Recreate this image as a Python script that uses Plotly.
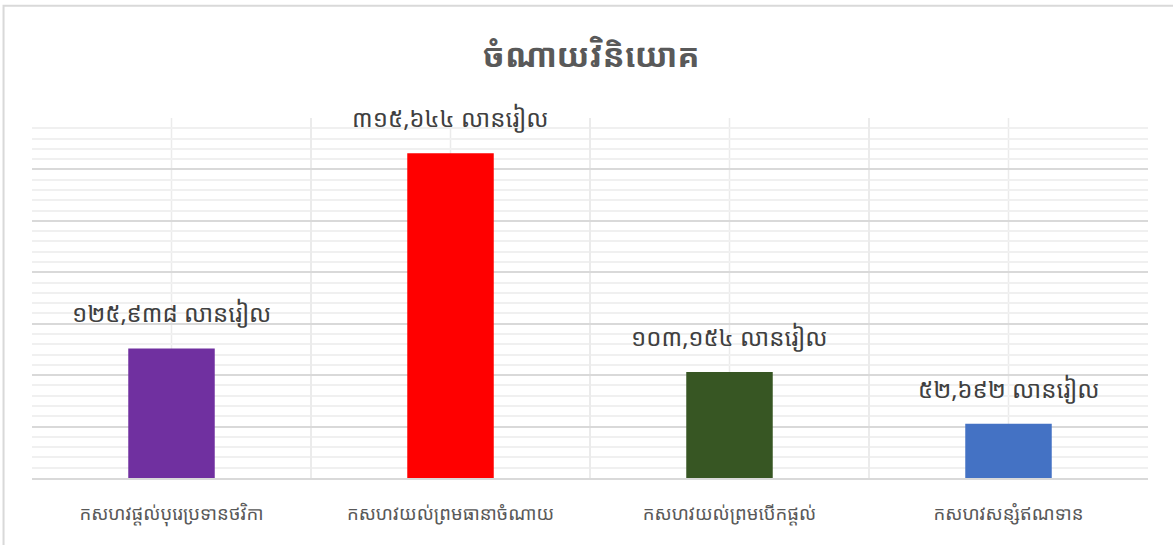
import plotly.graph_objects as go

categories = ["កសហវផ្តល់បុរេប្រទានថវិកា", "កសហវយល់ព្រមធានាចំណាយ", "កសហវយល់ព្រមបើកផ្តល់", "កសហវសន្សំឥណទាន"]
values = [125938, 315644, 103154, 52692]
value_labels = ["១២៥,៩៣៨ លានរៀល", "៣១៥,៦៤៤ លានរៀល", "១០៣,១៥៤ លានរៀល", "៥២,៦៩២ លានរៀល"]
bar_colors = ["#7030A0", "#FF0000", "#375623", "#4472C4"]
title_text = "ចំណាយវិនិយោគ"

FONT = "Noto Sans Khmer, Khmer OS, Khmer OS System, Noto Serif Khmer, Noto Sans, sans-serif"

fig = go.Figure()
fig.add_trace(go.Bar(x=categories, y=values, marker=dict(color=bar_colors, line=dict(width=0)),
                     width=0.31, hoverinfo="skip"))

for c, v, t in zip(categories, values, value_labels):
    fig.add_annotation(x=c, y=v, text=t, showarrow=False, yanchor="bottom", yshift=17,
                       font=dict(family=FONT, size=24, color="#404040"))

for c in categories:
    fig.add_shape(type="line", xref="x", yref="paper", x0=c, x1=c, y0=0, y1=1,
                  line=dict(color="#EBEBEB", width=1.5), layer="below")

# outer chart border
fig.add_shape(type="rect", xref="paper", yref="paper", x0=-0.0255, x1=1.1, y0=-0.3, y1=1.312,
              line=dict(color="#D9D9D9", width=2), layer="below")

fig.update_layout(
    width=1173, height=545,
    margin=dict(l=32, r=25, t=118, b=67),
    paper_bgcolor="white", plot_bgcolor="white",
    showlegend=False,
    title=dict(text=title_text, x=0.504, xanchor="center", y=1 - 55 / 545, yanchor="middle",
               font=dict(family=FONT, size=33, color="#595959", weight="bold")),
    bargap=0.69,
)
fig.update_xaxes(showgrid=True, gridcolor="#EBEBEB", gridwidth=1.5, tickson="boundaries",
                 ticks="", showline=True, linecolor="#D9D9D9", linewidth=2,
                 tickfont=dict(family=FONT, size=18.5, color="#595959"), ticklabelstandoff=18)
fig.update_yaxes(range=[0, 350000], dtick=50000, showgrid=True, gridcolor="#D9D9D9", gridwidth=1.5,
                 showticklabels=False, zeroline=False, ticks="",
                 minor=dict(dtick=10000, showgrid=True, gridcolor="#F0F0F0", gridwidth=1.5))

fig.write_html("out.html", config={"displayModeBar": False},
               post_script="document.body.style.margin='0';")
